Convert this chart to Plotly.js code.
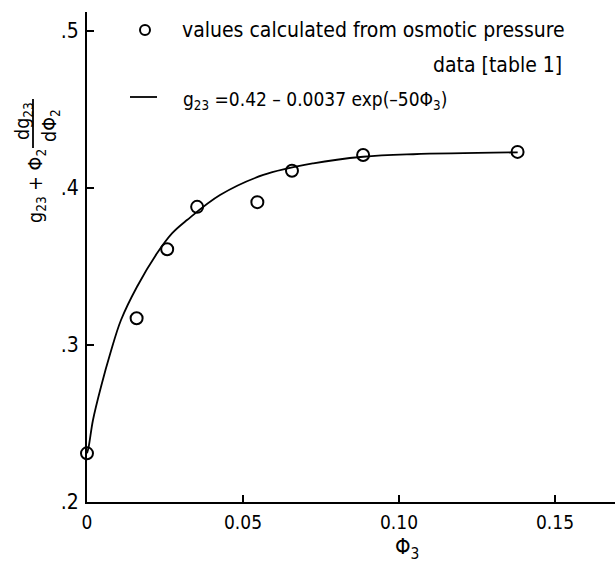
<!DOCTYPE html>
<html><head><meta charset="utf-8">
<script src="https://cdn.plot.ly/plotly-3.0.1.min.js"></script>
<style>html,body{margin:0;padding:0;background:#fff}#plot{width:615px;height:565px}</style>
</head><body><div id="plot"></div>
<script>
// measured points (phi3, g23 + phi2 dg23/dphi2)
const phi3Data = [0, 0.0159, 0.0257, 0.0353, 0.0546, 0.0657, 0.0885, 0.1380];
const gData = [0.231, 0.317, 0.361, 0.388, 0.391, 0.411, 0.421, 0.423];
// fitted curve
const phi3Fit = [0, 0.00054, 0.00192, 0.00449, 0.00747, 0.0109, 0.01603, 0.02244, 0.02724, 0.03205, 0.04263, 0.05651, 0.07253, 0.08856, 0.10458, 0.13804];
const gFit = [0.231, 0.2352, 0.2522, 0.2734, 0.2947, 0.3159, 0.3371, 0.3584, 0.3711, 0.3796, 0.3955, 0.4083, 0.4157, 0.4199, 0.4215, 0.4227];
const yTickVals = [0.2, 0.3, 0.4, 0.5];
const yTickText = ['.2', '.3', '.4', '.5'];
const xTickVals = [0, 0.05, 0.10, 0.15];
const xTickText = ['0', '0.05', '0.10', '0.15'];

const COND = 'DejaVu Sans Condensed, DejaVu Sans, sans-serif';
const W = 615, H = 565, L = 87, T = 12, B = 63, R = 0;
const pw = W - L - R, ph = H - T - B;
const px = X => (X - L) / pw;
const py = Y => (H - B - Y) / ph;

const traces = [
  {x: phi3Fit, y: gFit, mode: 'lines', line: {color: '#000', width: 1.8, shape: 'spline', smoothing: 1}, hoverinfo: 'skip', cliponaxis: false},
  {x: phi3Data, y: gData, mode: 'markers', marker: {symbol: 'circle-open', size: 12, color: '#000', line: {width: 2, color: '#000'}}, cliponaxis: false}
];

const ann = (text, X, Y, size, opts) => Object.assign({text, x: px(X), y: py(Y), xref: 'paper', yref: 'paper', showarrow: false, font: {family: COND, size: size, color: '#000'}}, opts || {});

const layout = {
  width: W, height: H,
  margin: {l: L, r: R, t: T, b: B},
  paper_bgcolor: '#fff', plot_bgcolor: '#fff',
  showlegend: false,
  font: {family: COND, size: 18, color: '#000'},
  xaxis: {range: [0, (W - L) / 3120], showgrid: false, zeroline: false, showline: true, linecolor: '#000', linewidth: 2,
          ticks: 'inside', ticklen: 7, tickwidth: 2, tickcolor: '#000', tickvals: xTickVals, ticktext: xTickText,
          tickfont: {family: COND, size: 19, color: '#000'}, ticklabelstandoff: 2},
  yaxis: {range: [0.2, 0.2 + (H - B - T) / 1570], showgrid: false, zeroline: false, showline: true, linecolor: '#000', linewidth: 2,
          ticks: 'inside', ticklen: 7, tickwidth: 2, tickcolor: '#000', tickvals: yTickVals, ticktext: yTickText,
          tickfont: {family: COND, size: 21, color: '#000'}, ticklabelstandoff: 2},
  annotations: [
    ann('values calculated from osmotic pressure', 180, 30, 21, {xanchor: 'left', yanchor: 'middle'}),
    ann('data [table 1]', 564, 65, 21, {xanchor: 'right', yanchor: 'middle'}),
    ann('g<sub>23</sub> =0.42 – 0.0037 exp(–50Φ<sub>3</sub>)', 181, 100, 19, {xanchor: 'left', yanchor: 'middle'}),
    ann('Φ<sub>3</sub>', 407, 548, 22, {xanchor: 'center', yanchor: 'middle'}),
    ann('g<sub>23</sub> + Φ<sub>2</sub>', 36, 186, 19.5, {xanchor: 'center', yanchor: 'middle', textangle: -90}),
    ann('dg<sub>23</sub>', 23, 121, 19.5, {xanchor: 'center', yanchor: 'middle', textangle: -90}),
    ann('dΦ<sub>2</sub>', 50, 126, 19.5, {xanchor: 'center', yanchor: 'middle', textangle: -90})
  ],
  shapes: [
    {type: 'circle', xref: 'paper', yref: 'paper', x0: px(140), x1: px(150), y0: py(25), y1: py(35), line: {color: '#000', width: 2}},
    {type: 'line', xref: 'paper', yref: 'paper', x0: px(130), x1: px(157), y0: py(97), y1: py(97), line: {color: '#000', width: 1.8}},
    {type: 'line', xref: 'paper', yref: 'paper', x0: px(33), x1: px(33), y0: py(99), y1: py(148), line: {color: '#000', width: 1.8}}
  ]
};
Plotly.newPlot('plot', traces, layout, {staticPlot: true, displayModeBar: false});
</script></body></html>
